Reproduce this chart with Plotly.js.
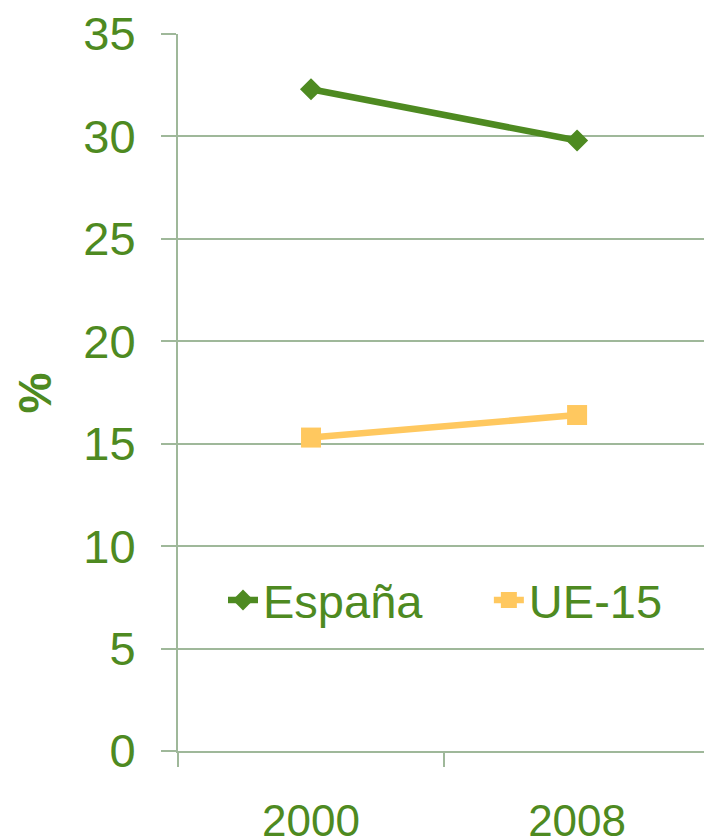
<!DOCTYPE html>
<html>
<head>
<meta charset="utf-8">
<script src="https://cdn.plot.ly/plotly-3.0.1.min.js"></script>
<style>
html,body{margin:0;padding:0;background:#fff;overflow:hidden;}
#chart{width:704px;height:839px;}
</style>
</head>
<body>
<div id="chart"></div>
<script>
const years = ['2000', '2008'];
const espana = [32.3, 29.8];
const ue15 = [15.3, 16.4];
const yTicks = [0, 5, 10, 15, 20, 25, 30, 35];
const yTitle = '%';

const green = '#4e8a21';
const gold = '#ffc85f';
const gridCol = '#9fb89a';
const font = 'Liberation Sans, Arial, sans-serif';

const traces = [
  {
    x: years, y: espana, name: 'España', type: 'scatter', mode: 'lines+markers',
    line: {color: green, width: 6.5},
    marker: {symbol: 'diamond', size: 17, color: green},
    legend: 'legend'
  },
  {
    x: years, y: ue15, name: 'UE-15', type: 'scatter', mode: 'lines+markers',
    line: {color: gold, width: 6.5},
    marker: {symbol: 'square', size: 20, color: gold},
    legend: 'legend2'
  }
];

const legendBase = {
  orientation: 'h', xanchor: 'left', y: 0.21, yanchor: 'middle',
  font: {size: 47, color: green, family: font},
  bgcolor: 'rgba(0,0,0,0)', itemclick: false
};

const layout = {
  width: 704, height: 839,
  margin: {l: 178, r: 0, t: 34, b: 88},
  paper_bgcolor: '#fff', plot_bgcolor: '#fff',
  font: {family: font, color: green},
  showlegend: true,
  legend: Object.assign({}, legendBase, {x: 0.0856}),
  legend2: Object.assign({}, legendBase, {x: 0.591}),
  xaxis: {
    type: 'category', range: [-0.5, 1.477],
    showline: true, linecolor: gridCol, linewidth: 2,
    ticks: 'outside', tickson: 'boundaries', ticklen: 14, tickcolor: gridCol, tickwidth: 2,
    showgrid: false, zeroline: false,
    tickfont: {size: 44, color: green, family: font},
    ticklabelstandoff: 30
  },
  yaxis: {
    range: [0, 35], tickvals: yTicks, ticktext: yTicks.map(String),
    showline: true, linecolor: gridCol, linewidth: 2,
    ticks: 'outside', ticklen: 15, tickcolor: gridCol, tickwidth: 2,
    showgrid: true, gridcolor: gridCol, gridwidth: 2, zeroline: false,
    tickfont: {size: 47, color: green, family: font},
    ticklabelstandoff: 16
  },
  annotations: [{
    text: '<b>' + yTitle + '</b>', xref: 'paper', yref: 'paper',
    x: -0.272, y: 0.5, xanchor: 'center', yanchor: 'middle',
    textangle: -90, showarrow: false,
    font: {size: 46, color: green, family: font}
  }]
};

Plotly.newPlot('chart', traces, layout, {displayModeBar: false, staticPlot: true});
</script>
</body>
</html>
